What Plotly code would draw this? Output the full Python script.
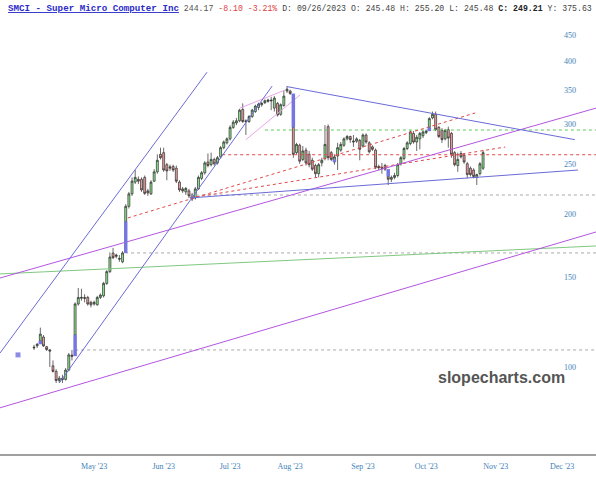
import plotly.graph_objects as go

# daily bars for SMCI, index 0 = first session on screen (early April 2023)
opens = [109, 110, 112.5, 114.5, 109.6, 108, 100.5, 98, 94, 95,
         94.5, 98.6, 105.5, 115.6, 133, 136.5, 137, 137, 134, 133,
         132.5, 137, 138, 146, 154, 167.5, 165, 163.5, 161, 193,
         207, 219, 231, 234, 234, 236, 222, 219, 232, 242,
         262, 264, 250, 246, 248, 246, 231, 224, 221, 222,
         218, 215, 224, 235, 241, 253, 250, 256, 252, 259,
         270, 276, 281, 296, 302, 305, 321, 305, 304, 311,
         318, 324, 328, 331, 333, 335, 323, 330, 314, 327,
         349, 349, 296, 264, 273, 256, 267, 262, 255, 249,
         240, 252, 257, 297, 264, 253, 260, 267, 273, 281,
         284, 277, 278, 279, 272, 286, 276, 271, 267, 248,
         246, 249, 237, 234, 236, 238, 251, 257, 269, 275,
         288, 277, 281, 285, 289, 296, 309, 314, 296, 292,
         281, 293, 288, 264, 249, 263, 261, 251, 246, 244,
         236, 240, 246]
highs = [110.5, 111.5, 119.5, 115.5, 110, 108.5, 103, 99, 96, 96.5,
         99.5, 106.5, 108, 134, 143, 142.5, 139, 138, 135, 135,
         138, 139.5, 147, 155, 168, 171.5, 167, 166, 169, 209,
         221, 236, 244, 237, 236, 238, 224, 233, 245, 262,
         270, 270, 252, 250, 250, 249, 233, 226, 226, 224,
         220, 226, 238, 243, 254, 263, 264, 258, 260, 272,
         279, 283, 299, 306, 309, 322, 330, 307, 313, 322,
         328, 331, 332, 336, 337, 340, 341, 332, 330, 350,
         357, 351, 297, 276, 275, 272, 270, 266, 258, 251,
         252, 258, 299, 300, 266, 262, 276, 277, 283, 286,
         285, 286, 283, 281, 288, 288, 278, 273, 269, 250,
         252, 251, 238, 238, 241, 252, 260, 271, 278, 292,
         291, 286, 290, 292, 293, 310, 318, 318, 298, 295,
         294, 297, 290, 266, 264, 266, 263, 253, 248, 246,
         240, 253, 267]
lows = [108, 109, 112, 109.5, 107.5, 100, 97.5, 93, 93, 93,
        94, 98, 103, 115, 132, 135, 134, 132, 131, 132,
        132, 136, 137, 145, 153, 163, 163.5, 161, 160, 192,
        205, 217, 229, 229, 221, 218, 217, 218, 231, 240,
        256, 242, 233, 243, 242, 230, 221, 220, 218, 215,
        212, 213.5, 223, 233, 239, 247, 248, 249, 250, 257,
        268, 274, 279, 294, 299, 303, 302, 286, 302, 309,
        316, 320, 325, 329, 331, 320, 318, 311, 312, 325,
        346, 343, 258, 262, 251, 254, 249, 247, 243, 236,
        236, 248, 255, 255, 254, 250, 244, 265, 271, 279,
        276, 271, 276, 255, 270, 275, 263, 266, 245, 244,
        240, 243, 228, 231, 234, 236, 249, 255, 267, 273,
        275, 266, 268, 282, 287, 295, 307, 291, 282, 276,
        279, 270, 258, 248, 242, 257, 251, 235, 237, 235,
        228, 238, 244]
closes = [109.3, 110.8, 116, 110, 108.2, 107.5, 98, 94, 95, 94.5,
          98.6, 105.6, 105, 133, 137, 137, 136.5, 133, 132.5, 134,
          137, 138.5, 146, 154, 164.5, 164, 166, 163, 167.6, 207,
          219, 232, 236, 232, 223, 219.5, 220, 231, 242, 255,
          258, 244, 243, 247.5, 244, 232, 223, 222, 224.5, 217,
          214, 224, 236, 241, 252, 249, 256, 251, 258, 270,
          277, 281, 296, 303, 305, 320, 304, 304, 311, 320,
          326, 329, 330, 334, 335, 334, 338, 313, 328, 341,
          352, 345, 262, 274, 254, 266, 252, 250, 245, 240,
          250, 255, 274, 258, 256, 259, 270, 274, 281, 284,
          280, 278, 281, 268, 286, 277, 265, 268, 247, 246.5,
          246.5, 245, 234, 236, 238, 250, 258, 269, 276, 290,
          277, 283, 288, 290, 291, 308, 314, 293, 284, 280,
          292, 282, 262, 250, 256, 259, 253, 239, 239, 237,
          239, 251, 264]

# first session of each month, counted in trading days from the first bar
month_labels = ["May '23", "Jun '23", "Jul '23", "Aug '23", "Sep '23", "Oct '23", "Nov '23", "Dec '23"]
month_pos = [19, 41, 62, 81, 104, 124, 146, 167]
price_ticks = [100, 150, 200, 250, 300, 350, 400, 450]

# drawn trendlines: (x0, price0, x1, price1), x in sessions
blue_lines = [(-10.75, 106.5, 54.7, 380), (8, 93, 75.3, 357),
              (80, 356, 171, 280), (49.3, 215, 172, 244)]
purple_lines = [(-10.75, 149.6, 177.7, 323), (-10.75, 83.1, 177.7, 184.3)]
pink_lines = [(65.1, 323, 79.4, 350.6), (67, 280, 84.1, 342.8)]
green_lines = [(-10.75, 152.4, 177.7, 173)]
red_dotted = [(29.7, 196.4, 139.5, 316), (49.3, 215, 149, 270.8)]
# horizontal levels running to the right edge: (start, price)
red_levels = [(59.5, 261.5)]
green_levels = [(73, 292.5)]
gray_levels = [(49.3, 217.9), (28.8, 167.6), (13, 108)]
marker_pt = (-5.06, 105.6)

x_end = 177.7
n = len(closes)
xs = list(range(n))

fig = go.Figure()

def add_segments(segs, color, dash='solid', width=1):
    xx, yy = [], []
    for x0, y0, x1, y1 in segs:
        xx += [x0, x1, None]
        yy += [y0, y1, None]
    fig.add_trace(go.Scatter(x=xx, y=yy, mode='lines', hoverinfo='skip',
                             line=dict(color=color, width=width, dash=dash)))

add_segments([(s, p, x_end, p) for s, p in gray_levels], '#a8a8a8', 'dot')
add_segments([(s, p, x_end, p) for s, p in green_levels], '#5cc85c', 'dot')
add_segments([(s, p, x_end, p) for s, p in red_levels], '#e04848', 'dot')
add_segments(red_dotted, '#e04848', 'dot')
add_segments(green_lines, '#80c880')
add_segments(purple_lines, '#b455e0')
add_segments(pink_lines, '#e8a6e8')
add_segments(blue_lines, '#6a6ad8')

fig.add_trace(go.Candlestick(
    x=xs, open=opens, high=highs, low=lows, close=closes,
    increasing=dict(fillcolor='#8fe68f', line=dict(color='#2a2a2a', width=0.7)),
    decreasing=dict(fillcolor='#eea0a0', line=dict(color='#2a2a2a', width=0.7)),
    whiskerwidth=0, hoverinfo='skip'))

# gaps: open outside the previous bar's range, shaded from prior close to open
gx, gy = [], []
for i in range(1, n):
    if opens[i] > highs[i - 1] or opens[i] < lows[i - 1]:
        gx += [i, i, None]
        gy += [closes[i - 1], opens[i], None]
fig.add_trace(go.Scatter(x=gx, y=gy, mode='lines', hoverinfo='skip',
                         line=dict(color='#7676e0', width=3.5)))

fig.add_trace(go.Scatter(x=[marker_pt[0]], y=[marker_pt[1]], mode='markers', hoverinfo='skip',
                         marker=dict(symbol='square', size=5, color='#8c8ce6')))

header = ("<span style='color:#2b2bc8;font-size:9.2px'><b><u>SMCI - Super Micro Computer Inc</u></b></span>"
          " <span style='color:#555'>244.17</span>"
          " <span style='color:#e04040'>-8.10 -3.21%</span>"
          " <span style='color:#444'>D: 09/26/2023 O: 245.48 H: 255.20 L: 245.48</span>"
          " <b>C: 249.21</b>"
          " <span style='color:#444'>Y: 375.63</span>")
fig.add_annotation(text=header, xref='paper', yref='paper', x=0, y=1, xshift=6, yshift=7,
                   xanchor='left', yanchor='middle', showarrow=False,
                   font=dict(family='Liberation Mono', size=8.2, color='#222'))
fig.add_annotation(text='<b>slopecharts.com</b>', xref='paper', yref='paper',
                   x=0.842, y=0.175, xanchor='center', yanchor='middle', showarrow=False,
                   font=dict(family='Liberation Sans', size=16, color='#555'))

fig.update_layout(
    width=596, height=480, autosize=False,
    margin=dict(l=0, r=0, t=15, b=26),
    plot_bgcolor='white', paper_bgcolor='white',
    showlegend=False, boxgap=0.12,
    xaxis=dict(range=[-10.75, x_end], tickvals=month_pos, ticktext=month_labels,
               showgrid=False, zeroline=False, showline=True, linecolor='#a0a0a0', linewidth=2,
               ticks='', ticklabelstandoff=3, rangeslider=dict(visible=False),
               tickfont=dict(family='Liberation Serif', size=8, color='#3f7fb8')),
    yaxis=dict(type='log', range=[1.8287, 2.6924], side='right', tickvals=price_ticks,
               ticktext=[str(v) for v in price_ticks], showgrid=False, zeroline=False,
               ticks='', ticklabelposition='inside', ticklabelstandoff=17,
               tickfont=dict(family='Liberation Serif', size=8, color='#3f7fb8')),
)

# the page's default body margin would push the figure off the 596x480 window
fig.write_html("out.html", config={'displayModeBar': False},
               post_script="document.body.style.margin = '0';")
